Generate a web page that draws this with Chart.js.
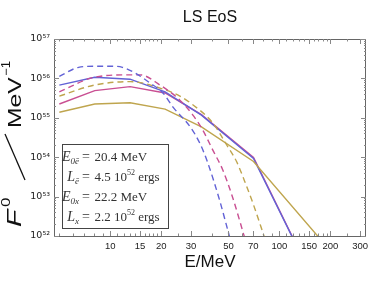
<!DOCTYPE html>
<html>
<head>
<meta charset="utf-8">
<script src="https://cdn.jsdelivr.net/npm/chart.js@4"></script>
<style>
html,body{margin:0;padding:0;background:#fff;}
#wrap{width:374px;height:289px;position:relative;}
</style>
</head>
<body>
<div id="wrap"><canvas id="c" width="374" height="289"></canvas></div>
<script>
// ---- data ----
const xTickLabels = [10, 15, 20, 30, 50, 70, 100, 150, 200, 300];
const yTickValues = [1e52, 1e53, 1e54, 1e55, 1e56, 1e57];

const solidE      = [5, 8.1, 13.1, 21.1, 34.6, 70.3, 119];
const solidEx     = [5, 8.1, 13.1, 21.1, 34.6, 70.3, 170];
const blueSolid    = [6.76e55, 1.07e56, 9.55e55, 4.57e55, 1.17e55, 9.33e53, 9.5e51];
const magentaSolid = [2.24e55, 4.90e55, 6.17e55, 4.27e55, 1.20e55, 9.8e53, 9.8e51];
const oliveSolid   = [1.38e55, 2.24e55, 2.40e55, 1.66e55, 5.90e54, 7.76e53, 9.5e51];

const blueDashE   = [5, 6.5, 8.16, 10, 11.8, 14.0, 17.2, 20.5, 23.5, 29.7, 33.8, 37.2, 44.3, 50.8];
const blueDash    = [1.12e56, 1.91e56, 2.04e56, 2.04e56, 1.91e56, 1.38e56, 7.6e55, 4.27e55, 1.86e55, 5.9e54, 2.29e54, 8.5e53, 8.1e52, 9.3e51];
const magentaDashE = [5, 8.05, 13.1, 15.0, 19.7, 25.8, 30.8, 35.2, 40.4, 46.2, 52.8, 62.2];
const magentaDash  = [4.57e55, 1.07e56, 1.23e56, 1.23e56, 6.76e55, 2.8e55, 1.17e55, 4.9e54, 1.51e54, 4.8e53, 9.8e52, 9.3e51];
const oliveDashE  = [5, 8.05, 13.1, 21.1, 25.8, 29.7, 40.4, 48.8, 55.8, 62.2, 70.0, 81.4];
const oliveDash   = [3.55e55, 6.76e55, 8.3e55, 5.13e55, 3.55e55, 2.4e55, 7.4e54, 2.04e54, 7.76e53, 2.5e53, 6.5e52, 9.5e51];

const COLORS = { blue: '#6262d6', magenta: '#c94f92', olive: '#bfa54e' };

function pts(xs, ys){ return xs.map((x,i)=>({x:x, y:ys[i]})); }

function solidDS(data, color){
  return { data, borderColor: color, borderWidth: 1.4, pointRadius: 0, tension: 0, fill:false };
}
function dashDS(data, color){
  return { data, borderColor: color, borderWidth: 1.4, pointRadius: 0, borderDash:[6,4],
           cubicInterpolationMode:'monotone', fill:false };
}

const supMap = {'0':'⁰','1':'¹','2':'²','3':'³','4':'⁴','5':'⁵','6':'⁶','7':'⁷','8':'⁸','9':'⁹','-':'⁻'};
function sup(s){ return String(s).split('').map(c=>supMap[c]||c).join(''); }

function stretched(ctx, text, font, u, v, sx){
  ctx.save();
  ctx.font = font;
  ctx.translate(u, v);
  ctx.scale(sx, 1);
  ctx.fillText(text, 0, 0);
  ctx.restore();
}

const SANS = '"Liberation Sans", Arial, sans-serif';
const SERIF = '"Liberation Serif", "DejaVu Serif", serif';

// frame, inward ticks, titles, annotation box
const framePlugin = {
  id: 'frame',
  afterDraw(chart){
    const {ctx, chartArea:a, scales:{x, y}} = chart;
    ctx.save();
    ctx.strokeStyle = '#666';
    ctx.lineWidth = 1;
    ctx.strokeRect(Math.round(a.left)+0.5, Math.round(a.top)+0.5, Math.round(a.right-a.left)-1, Math.round(a.bottom-a.top));
    const xMinor = [5,6,7,8,9,11,12,13,14,16,17,18,19,25,40,60,80,90,110,120,130,140,160,170,180,190,250];
    ctx.strokeStyle = '#888';
    const tick = (px, len, horiz) => {
      ctx.beginPath();
      if (horiz) {
        ctx.moveTo(px, a.bottom); ctx.lineTo(px, a.bottom - len);
        ctx.moveTo(px, a.top); ctx.lineTo(px, a.top + len);
      } else {
        ctx.moveTo(a.left, px); ctx.lineTo(a.left + len, px);
        ctx.moveTo(a.right, px); ctx.lineTo(a.right - len, px);
      }
      ctx.stroke();
    };
    xTickLabels.forEach(v => tick(Math.round(x.getPixelForValue(v))+0.5, 5, true));
    xMinor.forEach(v => { const p = x.getPixelForValue(v); if (p>a.left && p<a.right) tick(Math.round(p)+0.5, 2.5, true); });
    for (let e=52; e<57; e++){
      for (let m=2; m<=9; m++) tick(Math.round(y.getPixelForValue(m*Math.pow(10,e)))+0.5, 2, false);
    }
    yTickValues.forEach(v => tick(Math.round(y.getPixelForValue(v))+0.5, 5, false));

    // main title
    ctx.fillStyle = '#111';
    ctx.font = '16px ' + SANS;
    ctx.textAlign = 'center'; ctx.textBaseline = 'alphabetic';
    ctx.fillText('LS EoS', (a.left+a.right)/2, 22);
    // x title
    ctx.font = '17px ' + SANS;
    ctx.fillText('E/MeV', (a.left+a.right)/2, 267);
    // y title (rotated, stretched along its length)
    ctx.save();
    ctx.translate(21, 0);
    ctx.rotate(-Math.PI/2);
    ctx.textAlign = 'left';
    stretched(ctx, 'F', 'italic 21px ' + SANS, -227, 0, 1.35);
    stretched(ctx, '0', '13px ' + SANS, -207, -11, 1.3);
    stretched(ctx, 'MeV', '19px ' + SANS, -128, 0, 1.3);
    stretched(ctx, '−1', '12px ' + SANS, -76, -11, 1.1);
    ctx.strokeStyle = '#111';
    ctx.lineWidth = 1.3;
    ctx.beginPath();
    ctx.moveTo(-180, 4); ctx.lineTo(-134, -16);
    ctx.stroke();
    ctx.restore();

    // annotation box
    ctx.fillStyle = '#fff';
    ctx.fillRect(62.5, 144.5, 106, 84);
    ctx.strokeStyle = '#444';
    ctx.lineWidth = 1;
    ctx.strokeRect(62.5, 144.5, 106, 84);
    ctx.fillStyle = '#333';
    const eqX = 82;
    const lines = [
      {main:'E', sub:'0ē', val:'20.4 MeV', exp:null, tail:null},
      {main:'L', sub:'ē', val:'4.5 10', exp:'52', tail:' ergs'},
      {main:'E', sub:'0x', val:'22.2 MeV', exp:null, tail:null},
      {main:'L', sub:'x', val:'2.2 10', exp:'52', tail:' ergs'}
    ];
    const baseYs = [161, 181, 201, 221];
    lines.forEach((ln, i) => {
      const by = baseYs[i];
      ctx.font = 'italic 14px ' + SERIF;
      const mw = ctx.measureText(ln.main).width;
      ctx.font = 'italic 9px ' + SERIF;
      const sw = ctx.measureText(ln.sub).width;
      const startX = eqX - 3 - mw - sw;
      ctx.textAlign = 'left';
      ctx.font = 'italic 14px ' + SERIF;
      ctx.fillText(ln.main, startX, by);
      ctx.font = 'italic 9px ' + SERIF;
      ctx.fillText(ln.sub, startX + mw, by + 3);
      let px = eqX;
      ctx.font = '14px ' + SERIF;
      ctx.fillText('=', px, by); px += ctx.measureText('= ').width + 1;
      ctx.font = '13px ' + SERIF;
      ctx.fillText(ln.val, px, by); px += ctx.measureText(ln.val).width;
      if (ln.exp){
        ctx.font = '8px ' + SERIF;
        ctx.fillText(ln.exp, px, by - 6); px += ctx.measureText(ln.exp).width;
        ctx.font = '13px ' + SERIF;
        ctx.fillText(ln.tail, px, by);
      }
    });
    ctx.restore();
  }
};

new Chart(document.getElementById('c'), {
  type: 'line',
  data: {
    datasets: [
      dashDS(pts(blueDashE, blueDash), COLORS.blue),
      dashDS(pts(magentaDashE, magentaDash), COLORS.magenta),
      dashDS(pts(oliveDashE, oliveDash), COLORS.olive),
      solidDS(pts(solidEx, oliveSolid), COLORS.olive),
      solidDS(pts(solidE, blueSolid), COLORS.blue),
      solidDS(pts(solidE, magentaSolid), COLORS.magenta)
    ]
  },
  options: {
    responsive: false,
    animation: false,
    layout: { padding: { left: 0, right: 8, top: 39, bottom: 0 } },
    plugins: { legend: { display: false }, tooltip: { enabled: false }, title: { display: false } },
    scales: {
      x: {
        type: 'logarithmic', min: 4.65, max: 325,
        afterBuildTicks: s => { s.ticks = xTickLabels.map(v => ({value: v})); },
        afterFit: s => { s.height = 53; },
        grid: { display: false, drawTicks: false }, border: { display: false },
        ticks: { autoSkip: false, maxRotation: 0, padding: 5, color: '#222',
                 font: { family: SANS, size: 9.5 },
                 callback: v => String(v) }
      },
      y: {
        type: 'logarithmic', min: 1e52, max: 1e57,
        afterBuildTicks: s => { s.ticks = yTickValues.map(v => ({value: v})); },
        afterFit: s => { s.width = 54; },
        grid: { display: false, drawTicks: false }, border: { display: false },
        ticks: { autoSkip: false, padding: 4, color: '#222',
                 font: { family: '"DejaVu Sans", "Liberation Sans", sans-serif', size: 9.5 },
                 callback: v => '10' + sup(Math.round(Math.log10(v))) }
      }
    }
  },
  plugins: [framePlugin]
});
</script>
</body>
</html>
